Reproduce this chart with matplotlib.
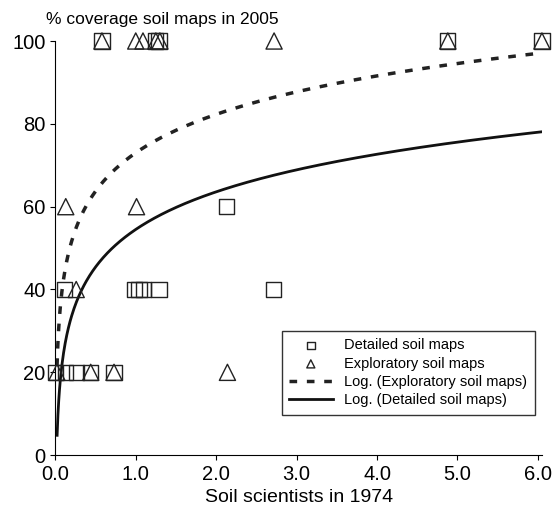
import numpy as np
import matplotlib
matplotlib.use("Agg")
import matplotlib.pyplot as plt
plt.rcParams['font.family'] = ['Liberation Sans', 'DejaVu Sans']

det_x = [0.58, 1.25, 1.29, 4.88, 6.05, 2.13, 0.11, 0.98, 1.04, 1.10, 1.29, 2.71, 0.0, 0.13, 0.26, 0.44, 0.73]
det_y = [100, 100, 100, 100, 100, 60, 40, 40, 40, 40, 40, 40, 20, 20, 20, 20, 20]
exp_x = [0.58, 1.0, 1.09, 1.25, 1.30, 2.72, 4.88, 6.05, 0.13, 1.01, 0.26, 0.02, 0.44, 0.73, 2.14]
exp_y = [100, 100, 100, 100, 100, 100, 100, 100, 60, 60, 40, 20, 20, 20, 20]
# log trendline coefficients y = a + b ln(x)
det_a, det_b = 54.5, 13.1
exp_a, exp_b = 73.0, 13.4

fig, ax = plt.subplots(figsize=(5.53, 5.19), dpi=100)
fig.subplots_adjust(left=0.1, right=0.98, bottom=0.123, top=0.921)
ax.scatter(det_x, det_y, marker='s', s=120, facecolors='none', edgecolors='#222', linewidths=1, label='Detailed soil maps', clip_on=False, zorder=3)
ax.scatter(exp_x, exp_y, marker='^', s=135, facecolors='none', edgecolors='#222', linewidths=1, label='Exploratory soil maps', clip_on=False, zorder=3)
xs = np.linspace(0.0215, 6.05, 600)
ax.plot(xs, exp_a + exp_b*np.log(xs), ls=(0, (2.2, 2.8)), color='#222', lw=2.5, label='Log. (Exploratory soil maps)')
xd = np.linspace(0.0225, 6.05, 600)
ax.plot(xd, det_a + det_b*np.log(xd), color='#111', lw=2, label='Log. (Detailed soil maps)')

ax.set_xlim(0, 6.05)
ax.set_ylim(0, 100)
ax.set_xticks(np.arange(0, 7, 1.0))
ax.set_xticklabels([f"{v:.1f}" for v in np.arange(0, 7, 1.0)])
ax.set_yticks(range(0, 101, 20))
for s in ['top', 'right']:
    ax.spines[s].set_visible(False)
ax.tick_params(labelsize=14.5, direction='out')
ax.set_xlabel('Soil scientists in 1974', fontsize=14)
ax.text(-0.02, 1.035, '% coverage soil maps in 2005', transform=ax.transAxes, fontsize=12.5, va='bottom')
leg = ax.legend(loc='lower right', bbox_to_anchor=(1.0, 0.08), fontsize=10.5, frameon=True, fancybox=False,
                edgecolor='black', handlelength=3, borderpad=0.5, labelspacing=0.3, markerscale=0.5)
leg.get_frame().set_linewidth(1)
fig.savefig('out.png')
